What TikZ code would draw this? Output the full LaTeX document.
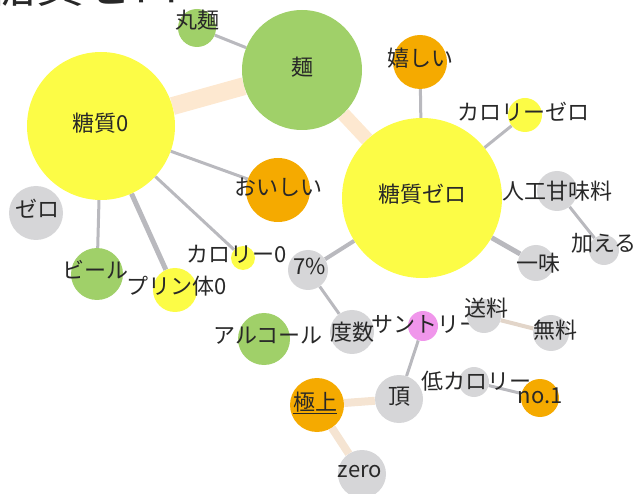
\documentclass[tikz,border=0pt]{standalone}
\usepackage{fontspec}
\setmainfont{Noto Sans CJK JP}
\usetikzlibrary{backgrounds}

\definecolor{ylw}{RGB}{252,252,70}
\definecolor{grn}{RGB}{160,208,105}
\definecolor{org}{RGB}{245,170,0}
\definecolor{gry}{RGB}{214,214,216}
\definecolor{pnk}{RGB}{240,150,235}
\definecolor{edgegray}{RGB}{185,185,190}
\definecolor{peach}{RGB}{253,232,208}
\definecolor{txtgray}{RGB}{40,40,40}

\begin{document}
\begin{tikzpicture}[x=1pt,y=-1pt,
    txt/.style={text=txtgray,font=\fontsize{22}{22}\selectfont,inner sep=0pt},
    bub/.style={circle,inner sep=0pt,minimum size=#1}]
  \useasboundingbox (0,0) rectangle (640,494);
  \clip (0,0) rectangle (640,494);

  \node[anchor=base west,inner sep=0pt,text=txtgray,font=\fontsize{48}{48}\selectfont] (title) at (-12,3) {糖質ゼロ};

  \begin{scope}[every label/.style={txt}]
    \node[bub=148pt,fill=ylw,label={[yshift=3pt]center:糖質0}] (tosits0) at (101,126) {};
    \node[bub=120pt,fill=grn,label={[yshift=3pt]center:麺}] (men) at (302,70) {};
    \node[bub=38pt,fill=grn,label={[yshift=8pt]center:丸麺}] (marumen) at (197,28) {};
    \node[bub=54pt,fill=org,label={[yshift=4pt]center:嬉しい}] (ureshii) at (420,62) {};
    \node[bub=160pt,fill=ylw,label={[yshift=4pt]center:糖質ゼロ}] (tszero) at (422,198) {};
    \node[bub=34pt,fill=ylw,label={[xshift=-2pt,yshift=3pt]center:カロリーゼロ}] (calzero) at (525,115) {};
    \node[bub=40pt,fill=gry,label={center:人工甘味料}] (jinko) at (557,191) {};
    \node[bub=30pt,fill=gry,label={[yshift=7pt]center:加える}] (kuwaeru) at (604,250) {};
    \node[bub=36pt,fill=gry,label={[xshift=2pt]center:一味}] (ichimi) at (536,263) {};
    \node[bub=64pt,fill=org,label={[yshift=3pt]center:おいしい}] (oishii) at (278,190) {};
    \node[bub=54pt,fill=gry,label={[xshift=2pt,yshift=4pt]center:ゼロ}] (zero2) at (36,213) {};
    \node[bub=52pt,fill=grn,label={[xshift=-2pt,yshift=4pt]center:ビール}] (beer) at (97,274) {};
    \node[bub=44pt,fill=ylw,label={[xshift=2pt,yshift=4pt]center:プリン体0}] (purin) at (175,290) {};
    \node[bub=24pt,fill=ylw,label={[xshift=-6pt,yshift=4pt]center:カロリー0}] (cal0) at (243,258) {};
    \node[bub=40pt,fill=gry,label={[xshift=2pt,yshift=4pt]center:7\%}] (pct) at (308,270) {};
    \node[bub=52pt,fill=grn,label={[xshift=4pt,yshift=3pt]center:アルコール}] (alcohol) at (264,339) {};
    \node[bub=44pt,fill=gry,label={center:度数}] (dosu) at (352,332) {};
    \node[bub=30pt,fill=pnk,label={[xshift=3pt,yshift=2pt]center:サントリー}] (suntory) at (423,326) {};
    \node[bub=34pt,fill=gry,label={[xshift=2pt,yshift=8pt]center:送料}] (soryo) at (484,316) {};
    \node[bub=36pt,fill=gry,label={[xshift=4pt,yshift=3pt]center:無料}] (muryo) at (551,333) {};
    \node[bub=48pt,fill=gry,label={[yshift=2pt]center:頂}] (itadaki) at (399,399) {};
    \node[bub=30pt,fill=gry,label={[xshift=2pt,yshift=1pt]center:低カロリー}] (teical) at (474,382) {};
    \node[bub=38pt,fill=org,label={[yshift=2pt]center:no.1}] (no1) at (540,398) {};
    \node[bub=54pt,fill=org,label={[xshift=-2pt,yshift=2pt]center:\underline{極上}}] (gokujo) at (317,405) {};
    \node[bub=48pt,fill=gry,label={[xshift=-2pt,yshift=2pt]center:zero}] (zero) at (362,474) {};
  \end{scope}

  \begin{scope}[on background layer,
      every edge/.style={draw=edgegray,line width=3pt}]
    \path (marumen) edge (men);
    \path (tosits0) edge[draw=peach,line width=18pt] (men);
    \path (men) edge[draw=peach,line width=14pt] (tszero);
    \path (ureshii) edge (tszero);
    \path (calzero) edge (tszero);
    \path (jinko) edge (kuwaeru);
    \path (ichimi) edge[line width=5pt] (tszero);
    \path (tosits0) edge (oishii);
    \path (tosits0) edge (beer);
    \path (tosits0) edge[line width=5pt] (purin);
    \path (tosits0) edge (cal0);
    \path (tszero) edge[line width=4pt] (pct);
    \path (pct) edge (dosu);
    \path (suntory) edge (itadaki);
    \path (soryo) edge[draw=peach!60!edgegray,line width=4pt] (muryo);
    \path (itadaki) edge[draw=peach!80!gry,line width=8pt] (gokujo);
    \path (gokujo) edge[draw=peach!80!gry,line width=8pt] (zero);
    \path (teical) edge (no1);
  \end{scope}
\end{tikzpicture}
\end{document}
